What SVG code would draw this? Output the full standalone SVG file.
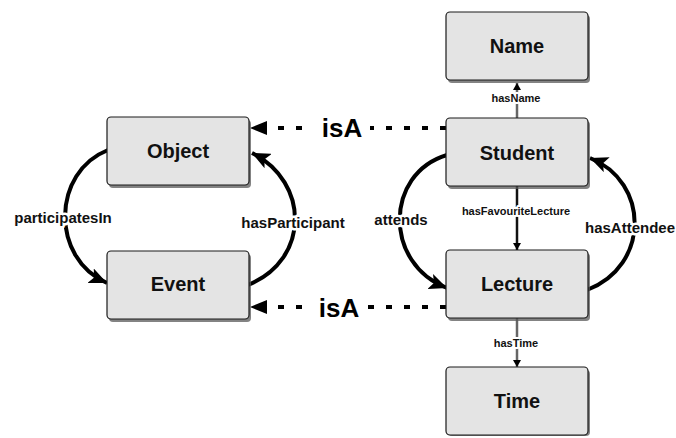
<svg xmlns="http://www.w3.org/2000/svg" width="676" height="438" viewBox="0 0 676 438">
<style>
.box{fill:#e4e4e4;stroke:#1a1a1a;stroke-width:1.2}
.shadow{fill:#5a5a5a;opacity:0.75}
.node{font-family:"Liberation Sans",Arial,sans-serif;font-weight:bold;font-size:20px;text-anchor:middle;fill:#111}
.curve{fill:none;stroke:#000;stroke-width:4}
.isa{fill:none;stroke:#000;stroke-width:4;stroke-dasharray:6 12}
.lbl{font-family:"Liberation Sans",Arial,sans-serif;font-weight:bold;font-size:15px;text-anchor:middle;fill:#111;stroke:#fff;stroke-width:5;paint-order:stroke;stroke-linejoin:round}
.sm{font-family:"Liberation Sans",Arial,sans-serif;font-weight:bold;font-size:11px;text-anchor:middle;fill:#111;stroke:#fff;stroke-width:4;paint-order:stroke;stroke-linejoin:round}
.isat{font-family:"Liberation Sans",Arial,sans-serif;font-weight:bold;font-size:26px;text-anchor:middle;fill:#000}
.thin{fill:none;stroke-width:2.5}
</style>
<defs>
<marker id="big" markerUnits="userSpaceOnUse" markerWidth="20" markerHeight="16" refX="18" refY="8" orient="auto">
<path d="M0,0 L18,8 L0,16 L4,8 z" fill="#000"/>
</marker>
<marker id="small" markerUnits="userSpaceOnUse" markerWidth="8" markerHeight="8" refX="7" refY="4" orient="auto">
<path d="M0,0 L7,4 L0,8 z" fill="#000"/>
</marker>
</defs>

<g id="connectors">
<path class="curve" d="M108,150 C52,172 50,258 107,283" marker-end="url(#big)"/>
<path class="curve" d="M248,285 C310,260 310,182 252,153" marker-end="url(#big)"/>
<path class="curve" d="M447,155 C384,174 384,264 447,288" marker-end="url(#big)"/>
<path class="curve" d="M587,290 C650,266 650,182 590,158" marker-end="url(#big)"/>
<line class="isa" x1="446" y1="128" x2="266" y2="128"/>
<path d="M250,128 L267,121 L267,135 z" fill="#000"/>
<line class="isa" x1="446" y1="307" x2="266" y2="307"/>
<path d="M250,307 L267,300 L267,314 z" fill="#000"/>
<rect x="312" y="112" width="58" height="30" fill="#fff"/>
<rect x="310" y="291" width="58" height="30" fill="#fff"/>
<text class="isat" x="342" y="137">isA</text>
<text class="isat" x="339" y="317">isA</text>
<line class="thin" stroke="#666" x1="517" y1="118" x2="517" y2="83" marker-end="url(#small)"/>
<line class="thin" stroke="#111" x1="517" y1="186" x2="517" y2="250" marker-end="url(#small)"/>
<line class="thin" stroke="#666" x1="517" y1="318" x2="517" y2="367" marker-end="url(#small)"/>
<text class="lbl" x="63" y="223">participatesIn</text>
<text class="lbl" x="293" y="228">hasParticipant</text>
<text class="lbl" x="401" y="225">attends</text>
<text class="lbl" x="630" y="233">hasAttendee</text>
<text class="sm" x="516" y="102">hasName</text>
<text class="sm" x="516" y="215">hasFavouriteLecture</text>
<text class="sm" x="516" y="347">hasTime</text>
</g>

<g id="node-name">
<rect class="shadow" x="448" y="15" width="142" height="68" rx="4"/>
<rect class="box" x="446" y="12" width="142" height="68" rx="4"/>
<text class="node" x="517" y="53">Name</text>
</g>
<g id="node-student">
<rect class="shadow" x="448" y="121" width="142" height="68" rx="4"/>
<rect class="box" x="446" y="118" width="142" height="68" rx="4"/>
<text class="node" x="517" y="160">Student</text>
</g>
<g id="node-lecture">
<rect class="shadow" x="448" y="253" width="142" height="68" rx="4"/>
<rect class="box" x="446" y="250" width="142" height="68" rx="4"/>
<text class="node" x="517" y="291">Lecture</text>
</g>
<g id="node-time">
<rect class="shadow" x="448" y="370" width="142" height="66" rx="4"/>
<rect class="box" x="446" y="367" width="142" height="68" rx="4"/>
<text class="node" x="517" y="408">Time</text>
</g>
<g id="node-object">
<rect class="shadow" x="109" y="120" width="142" height="68" rx="4"/>
<rect class="box" x="107" y="117" width="142" height="68" rx="4"/>
<text class="node" x="178" y="158">Object</text>
</g>
<g id="node-event">
<rect class="shadow" x="109" y="254" width="142" height="68" rx="4"/>
<rect class="box" x="107" y="251" width="142" height="68" rx="4"/>
<text class="node" x="178" y="291">Event</text>
</g>
</svg>
